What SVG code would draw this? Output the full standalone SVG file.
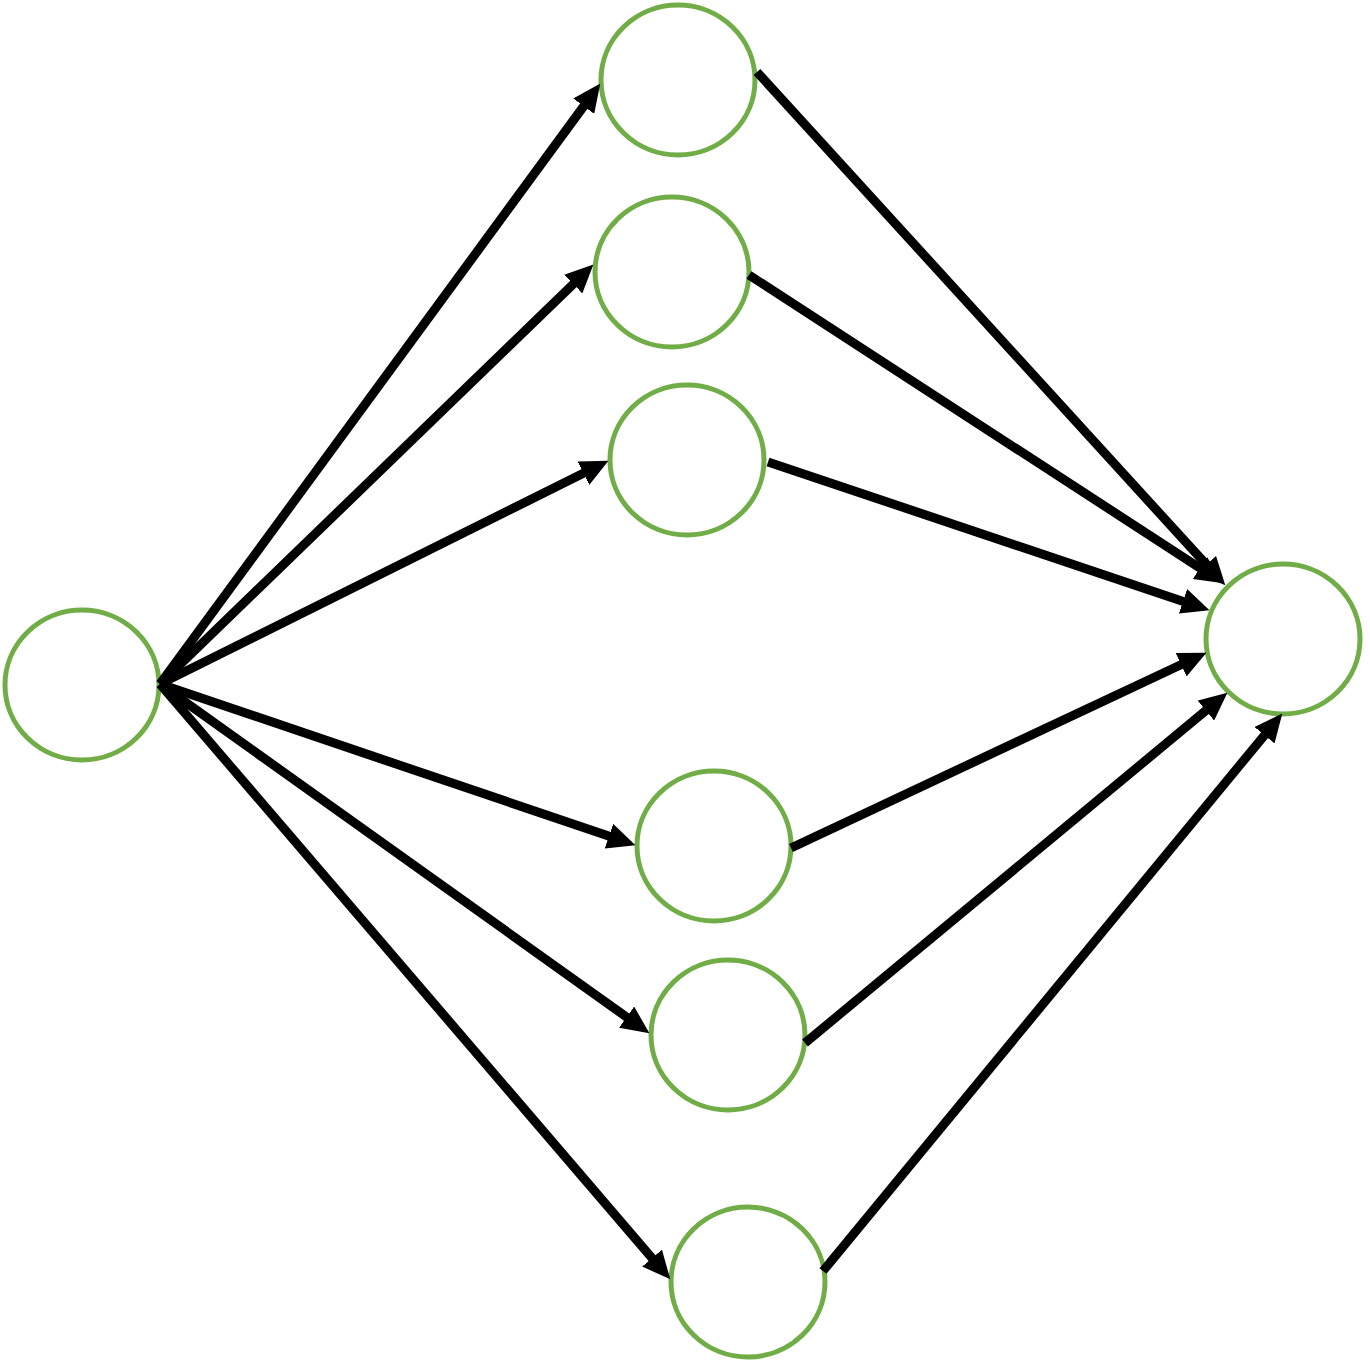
<svg xmlns="http://www.w3.org/2000/svg" width="1370" height="1365" viewBox="0 0 1370 1365">
<style>
.node{fill:#ffffff;stroke:#70AD47;stroke-width:5}
.edge{stroke:#000000;stroke-width:9;fill:none;marker-end:url(#arr)}
</style>
<defs>
<marker id="arr" markerUnits="userSpaceOnUse" viewBox="0 0 28 26" markerWidth="28" markerHeight="26" refX="14.5" refY="13" orient="auto">
<path d="M0,0 L28,13 L0,26 z" fill="#000000"/>
</marker>
</defs>
<rect width="1370" height="1365" fill="#ffffff"/>
<g id="n0"><ellipse class="node" cx="82" cy="685" rx="77" ry="75"/></g>
<g id="n1"><ellipse class="node" cx="678" cy="80" rx="77" ry="75"/></g>
<g id="n2"><ellipse class="node" cx="672" cy="272" rx="77" ry="75"/></g>
<g id="n3"><ellipse class="node" cx="687" cy="460" rx="77" ry="75"/></g>
<g id="n4"><ellipse class="node" cx="714" cy="846" rx="77" ry="75"/></g>
<g id="n5"><ellipse class="node" cx="728" cy="1035" rx="77" ry="75"/></g>
<g id="n6"><ellipse class="node" cx="748" cy="1282" rx="77" ry="75"/></g>
<g id="n7"><ellipse class="node" cx="1283" cy="639" rx="77" ry="75"/></g>
<g id="connectors">
<line class="edge" x1="160" y1="684" x2="592.3" y2="94.5"/>
<line class="edge" x1="160" y1="684" x2="583.7" y2="274.0"/>
<line class="edge" x1="160" y1="684" x2="596.4" y2="466.8"/>
<line class="edge" x1="160" y1="684" x2="622.7" y2="840.8"/>
<line class="edge" x1="160" y1="684" x2="638.4" y2="1025.5"/>
<line class="edge" x1="160" y1="684" x2="661.5" y2="1269.1"/>
<line class="edge" x1="757" y1="72" x2="1216.2" y2="575.4"/>
<line class="edge" x1="749" y1="275" x2="1212.1" y2="575.9"/>
<line class="edge" x1="768" y1="462" x2="1196.7" y2="605.9"/>
<line class="edge" x1="791" y1="848" x2="1194.2" y2="658.5"/>
<line class="edge" x1="805" y1="1043" x2="1217.0" y2="701.3"/>
<line class="edge" x1="823" y1="1271" x2="1273.7" y2="724.0"/>
</g>
</svg>
